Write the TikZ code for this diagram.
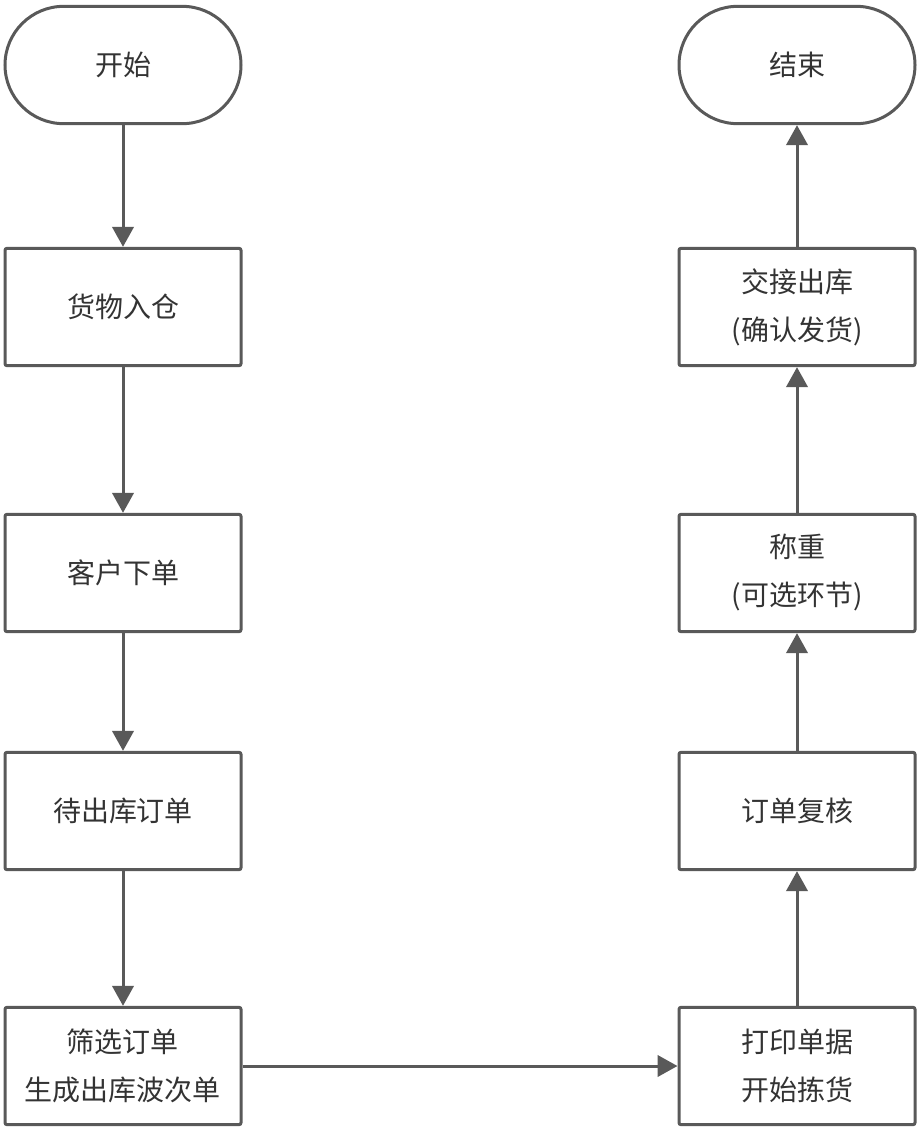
\documentclass[tikz,border=0pt]{standalone}
\usepackage{fontspec}
\setmainfont{Noto Sans CJK SC}
\usetikzlibrary{arrows.meta}
\definecolor{linegray}{HTML}{595959}
\definecolor{textgray}{HTML}{333333}

\begin{document}
\begin{tikzpicture}[x=0.75pt, y=-0.75pt,
box/.style = {draw=linegray, line width=2.25pt, rounded corners=1.5pt,
  minimum width=177pt, minimum height=88pt, align=center,
  text=textgray, font=\fontsize{21pt}{36pt}\selectfont},
term/.style = {box, rounded corners=44pt},
flow/.style = {draw=linegray, line width=2.25pt,
  -{Triangle[width=16pt, length=15pt]}}]
\useasboundingbox (0,0) rectangle (920,1129);
% left column
\node[term] (start) at (123,65) {开始};
\node[box] (stock) at (123,307) {货物入仓};
\node[box] (order) at (123,573) {客户下单};
\node[box] (wait) at (123,811) {待出库订单};
\node[box] (wave) at (123,1066) {筛选订单\\生成出库波次单};
% right column
\node[box] (print) at (797,1066) {打印单据\\开始拣货};
\node[box] (check) at (797,811) {订单复核};
\node[box] (weigh) at (797,573) {称重\\(可选环节)};
\node[box] (ship) at (797,307) {交接出库\\(确认发货)};
\node[term] (finish) at (797,65) {结束};
\draw[flow] (start) -- (stock);
\draw[flow] (stock) -- (order);
\draw[flow] (order) -- (wait);
\draw[flow] (wait) -- (wave);
\draw[flow] (wave) -- (print);
\draw[flow] (print) -- (check);
\draw[flow] (check) -- (weigh);
\draw[flow] (weigh) -- (ship);
\draw[flow] (ship) -- (finish);
\end{tikzpicture}
\end{document}
